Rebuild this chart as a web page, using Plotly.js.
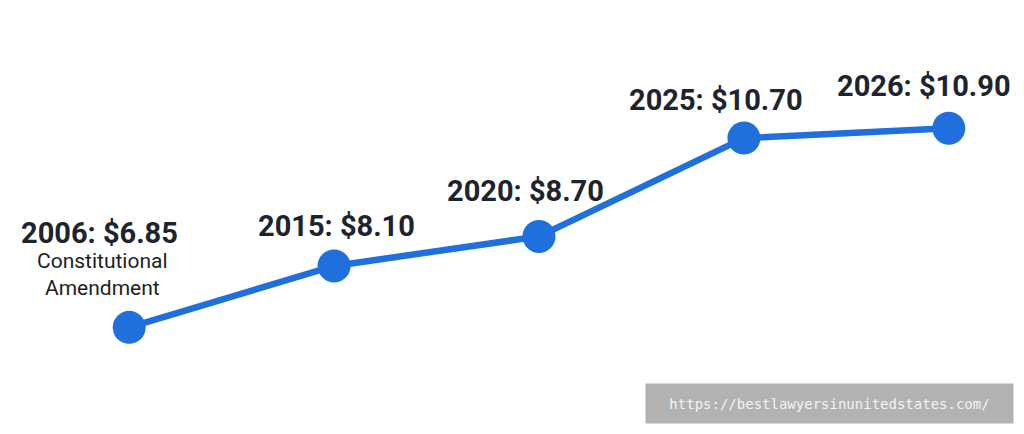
<!DOCTYPE html>
<html>
<head>
<meta charset="utf-8">
<script src="https://cdn.plot.ly/plotly-3.0.1.min.js"></script>
<style>html,body{margin:0;padding:0;background:#fff;}#chart{width:1024px;height:434px;}</style>
</head>
<body>
<div id="chart"></div>
<script>
const years = ["2006", "2015", "2020", "2025", "2026"];
const wages = [6.85, 8.10, 8.70, 10.70, 10.90];
const notes = ["Constitutional<br>Amendment", "", "", "", ""];
const watermark = "https://bestlawyersinunitedstates.com/";

// label offsets (styling only), in pixels
const labelDX = [-30, 2, -14, -28, -25];
const labelDY = [94, 40, 45, 38, 42];

const trace = {
  x: years,
  y: wages,
  type: "scatter",
  mode: "lines+markers",
  line: {color: "#1f6fdd", width: 6.5},
  marker: {color: "#1f6fdd", size: 33},
  hoverinfo: "none",
  cliponaxis: false
};

const annotations = [];
years.forEach((yr, i) => {
  annotations.push({
    x: i, y: wages[i], xref: "x", yref: "y",
    text: "<b>" + yr + ": $" + wages[i].toFixed(2) + "</b>",
    showarrow: false, xanchor: "center", yanchor: "middle",
    xshift: labelDX[i], yshift: labelDY[i],
    font: {family: "Roboto, sans-serif", size: 29, color: "#1d242e"}
  });
  if (notes[i]) {
    annotations.push({
      x: i, y: wages[i], xref: "x", yref: "y",
      text: notes[i], showarrow: false, xanchor: "center", yanchor: "middle",
      xshift: labelDX[i] + 3, yshift: labelDY[i] - 41,
      font: {family: "Roboto, sans-serif", size: 21, color: "#1d1f24"}
    });
  }
});

annotations.push({
  xref: "paper", yref: "paper", x: 829 / 1024, y: 1 - 403 / 434,
  xanchor: "center", yanchor: "middle",
  text: watermark, showarrow: false,
  bgcolor: "#b2b2b2", width: 361, height: 33, borderpad: 3,
  font: {family: "DejaVu Sans Mono, monospace", size: 14, color: "#f4f4f4"}
});

const hiddenAxis = {showgrid: false, zeroline: false, showline: false, showticklabels: false, ticks: "", fixedrange: true};

const layout = {
  width: 1024, height: 434,
  margin: {l: 0, r: 0, t: 0, b: 0},
  paper_bgcolor: "#ffffff", plot_bgcolor: "#ffffff",
  showlegend: false,
  xaxis: Object.assign({type: "category", range: [-0.6305, 4.367]}, hiddenAxis),
  yaxis: Object.assign({range: [4.681, 13.509]}, hiddenAxis),
  annotations: annotations
};

Plotly.newPlot("chart", [trace], layout, {displayModeBar: false, staticPlot: true});
</script>
</body>
</html>
